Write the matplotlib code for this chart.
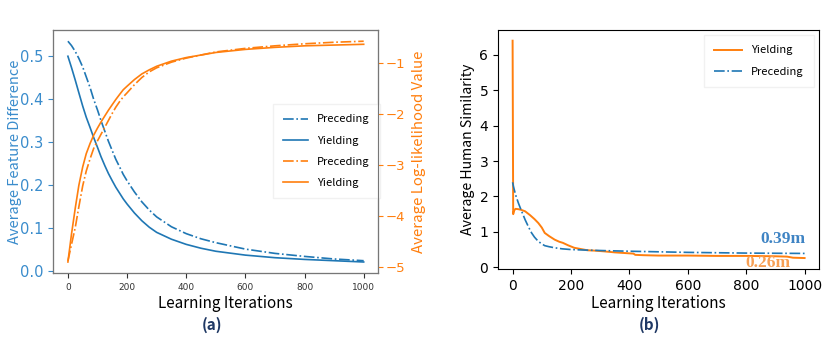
import matplotlib
matplotlib.use("Agg")
import matplotlib.pyplot as plt

BLUE = "#1f77b4"
ORANGE = "#ff7f0e"
LABEL_FONT = ["Noto Sans CJK SC", "DejaVu Sans"]

# panel (a): feature difference (left axis) and log-likelihood (right axis)
iters_a = [0, 12, 25, 37, 50, 62, 75, 87, 100, 112, 125, 137, 150, 162, 175, 187, 200, 225, 250, 275,
           300, 350, 400, 450, 500, 600, 700, 800, 900, 1000]
feat_yield = [0.500, 0.474, 0.444, 0.415, 0.384, 0.358, 0.334, 0.311, 0.288, 0.266, 0.245, 0.227, 0.210,
              0.195, 0.181, 0.168, 0.156, 0.135, 0.117, 0.102, 0.090, 0.074, 0.062, 0.053, 0.046, 0.037,
              0.031, 0.027, 0.024, 0.021]
feat_preced = [0.535, 0.525, 0.511, 0.495, 0.475, 0.452, 0.427, 0.400, 0.375, 0.350, 0.325, 0.302, 0.280,
               0.260, 0.242, 0.225, 0.210, 0.184, 0.161, 0.142, 0.126, 0.103, 0.087, 0.075, 0.066, 0.051,
               0.041, 0.034, 0.028, 0.024]
ll_yield = [-4.90, -4.36, -3.84, -3.40, -3.04, -2.78, -2.58, -2.42, -2.28, -2.16, -2.04, -1.93, -1.82,
            -1.72, -1.62, -1.53, -1.46, -1.33, -1.22, -1.14, -1.07, -0.97, -0.90, -0.85, -0.80, -0.74,
            -0.70, -0.67, -0.655, -0.64]
ll_preced = [-4.88, -4.56, -4.22, -3.82, -3.41, -3.12, -2.88, -2.68, -2.53, -2.40, -2.26, -2.13, -1.99,
             -1.87, -1.76, -1.67, -1.59, -1.43, -1.29, -1.18, -1.10, -0.99, -0.91, -0.85, -0.79, -0.72,
             -0.67, -0.63, -0.60, -0.58]

# panel (b): human similarity
iters_b_yield = [0, 2, 5, 10, 20, 30, 43, 60, 75, 88, 100, 110, 125, 144, 160, 172, 190, 211, 230, 256,
                 280, 312, 350, 414, 420, 450, 500, 600, 700, 800, 900, 940, 960, 1000]
sim_yield = [6.4, 1.5, 1.6, 1.65, 1.64, 1.62, 1.58, 1.47, 1.36, 1.25, 1.12, 0.97, 0.88, 0.78, 0.72, 0.69,
             0.62, 0.55, 0.52, 0.48, 0.47, 0.45, 0.42, 0.385, 0.35, 0.34, 0.33, 0.33, 0.32, 0.32, 0.31,
             0.30, 0.27, 0.26]
iters_b_preced = [0, 3, 10, 20, 30, 43, 55, 65, 75, 88, 100, 110, 125, 144, 170, 200, 250, 312, 414, 600,
                  800, 1000]
sim_preced = [2.4, 2.28, 2.05, 1.81, 1.60, 1.34, 1.13, 0.97, 0.85, 0.73, 0.66, 0.61, 0.58, 0.55, 0.52,
              0.50, 0.485, 0.47, 0.45, 0.42, 0.40, 0.39]

fig = plt.figure(figsize=(8.3, 3.43), dpi=100)

# ---- (a)
ax1 = fig.add_axes([0.064, 0.204, 0.392, 0.708])
ax2 = ax1.twinx()
l1, = ax1.plot(iters_a, feat_preced, color=BLUE, ls="-.", lw=1.2)
l2, = ax1.plot(iters_a, feat_yield, color=BLUE, ls="-", lw=1.2)
l3, = ax2.plot(iters_a, ll_preced, color=ORANGE, ls="-.", lw=1.2)
l4, = ax2.plot(iters_a, ll_yield, color=ORANGE, ls="-", lw=1.2)

ax1.set_yticks([0.0, 0.1, 0.2, 0.3, 0.4, 0.5])
ax1.tick_params(axis="y", colors="#3a8ccc", labelsize=10.5)
ax1.tick_params(axis="x", labelsize=6.5, colors="#333333")
ax2.set_yticks([-1, -2, -3, -4, -5])
ax2.tick_params(axis="y", colors=ORANGE, labelsize=9.5, pad=2)
ax1.set_ylabel("Average Feature Difference", color="#3a8ccc", fontsize=10.5, family=LABEL_FONT)
ax1.yaxis.set_label_coords(-0.095, 0.5)
ax2.set_ylabel("Average Log-likelihood Value", color=ORANGE, fontsize=10.8, family=LABEL_FONT)
ax2.yaxis.set_label_coords(1.102, 0.5)
ax1.set_xlabel("Learning Iterations", fontsize=11, family=LABEL_FONT, labelpad=3)
ax1.xaxis.set_label_coords(0.53, -0.09)
for sp in ax2.spines.values():
    sp.set_color("#777777")

leg = ax1.legend([l1, l2, l3, l4], ["Preceding", "Yielding", "Preceding", "Yielding"],
                 loc="upper left", bbox_to_anchor=(0.658, 0.717), prop={"family": LABEL_FONT, "size": 8},
                 labelspacing=1.0, handlelength=2.3, borderpad=0.9, fancybox=False)
leg.get_frame().set_edgecolor("#eeeeee")

fig.text(0.256, 0.052, "(a)", ha="center", va="center", color="#1f3864", fontsize=11,
         fontweight="bold", family=LABEL_FONT)

# ---- (b)
ax3 = fig.add_axes([0.600, 0.216, 0.387, 0.697])
m1, = ax3.plot(iters_b_yield, sim_yield, color=ORANGE, ls="-", lw=1.4)
m2, = ax3.plot(iters_b_preced, sim_preced, color=BLUE, ls="-.", lw=1.2)
ax3.set_yticks([0, 1, 2, 3, 4, 5, 6])
ax3.tick_params(labelsize=10)
ax3.set_xlabel("Learning Iterations", fontsize=11, family=LABEL_FONT, labelpad=2)
ax3.set_ylabel("Average Human Similarity", fontsize=10.2, family=LABEL_FONT, labelpad=3)
leg2 = ax3.legend([m1, m2], ["Yielding", "Preceding"], loc="upper right",
                  prop={"family": LABEL_FONT, "size": 8}, labelspacing=1.0, handlelength=2.5,
                  borderpad=0.9, fancybox=False)
leg2.get_frame().set_edgecolor("#eeeeee")

ax3.text(1003, 0.69, "0.39m", color="#3f84c4", fontsize=12.5, fontweight="bold",
         family="Liberation Serif", ha="right", va="baseline")
ax3.text(950, 0.02, "0.26m", color="#f7a055", fontsize=12.5, fontweight="bold",
         family="Liberation Serif", ha="right", va="baseline", clip_on=True)

fig.text(0.783, 0.052, "(b)", ha="center", va="center", color="#1f3864", fontsize=11,
         fontweight="bold", family=LABEL_FONT)

fig.savefig("out.png", dpi=100)
